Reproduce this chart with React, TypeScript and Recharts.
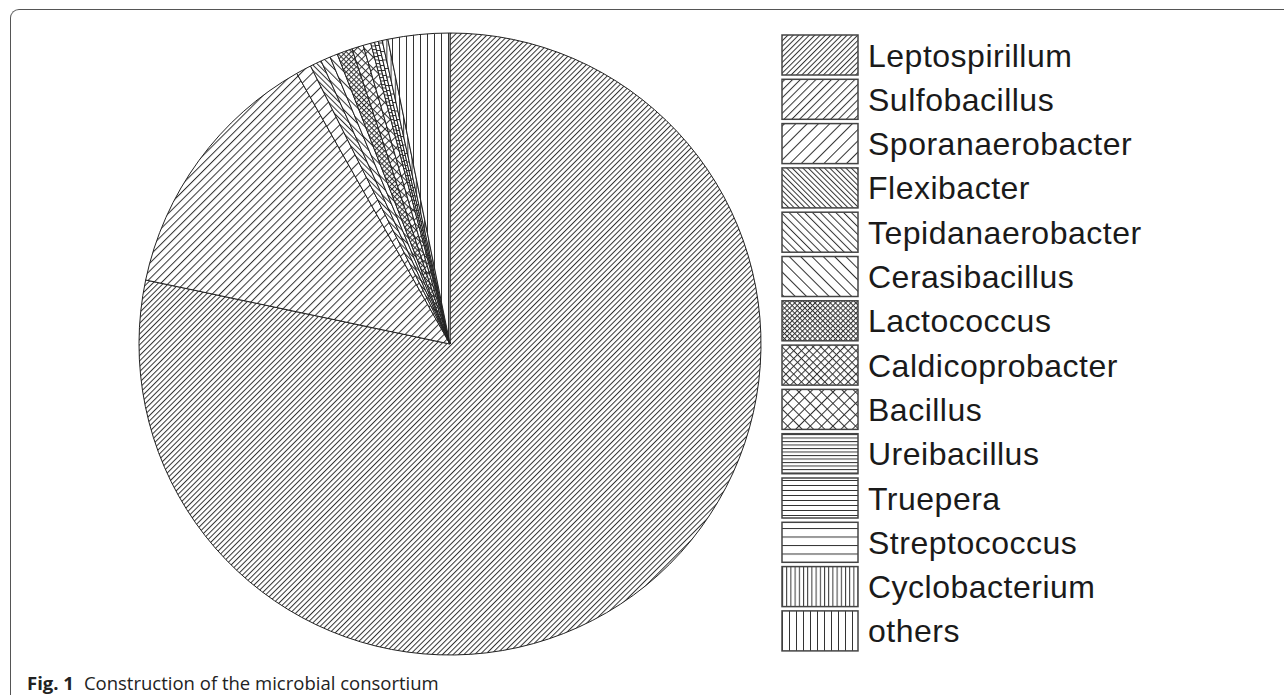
import { Cell, Legend, Pie, PieChart } from 'recharts';

// genus shares (%), clockwise from 12 o'clock
const genera = [
  'Leptospirillum',
  'Sulfobacillus',
  'Sporanaerobacter',
  'Flexibacter',
  'Tepidanaerobacter',
  'Cerasibacillus',
  'Lactococcus',
  'Caldicoprobacter',
  'Bacillus',
  'Ureibacillus',
  'Truepera',
  'Streptococcus',
  'Cyclobacterium',
  'others',
];
const shares = [78.3, 13.5, 0.8, 0.6, 0.5, 0.4, 0.8, 0.6, 0.4, 0.2, 0.2, 0.2, 0.3, 3.2];

const data = genera.map((name, i) => ({ name, value: shares[i] }));

type Hatch = { kind: 'fwd' | 'back' | 'cross' | 'horiz' | 'vert'; gap: number };

const hatches: Hatch[] = [
  { kind: 'fwd', gap: 3.8 },
  { kind: 'fwd', gap: 5.5 },
  { kind: 'fwd', gap: 8 },
  { kind: 'back', gap: 3.8 },
  { kind: 'back', gap: 5.5 },
  { kind: 'back', gap: 8 },
  { kind: 'cross', gap: 3.6 },
  { kind: 'cross', gap: 5.5 },
  { kind: 'cross', gap: 8 },
  { kind: 'horiz', gap: 3.5 },
  { kind: 'horiz', gap: 5 },
  { kind: 'horiz', gap: 8.5 },
  { kind: 'vert', gap: 4.2 },
  { kind: 'vert', gap: 7 },
];

const INK = '#333';

function HatchDefs() {
  return (
    <defs>
      {hatches.map((h, i) => {
        const g = h.gap;
        const rot =
          h.kind === 'fwd' || h.kind === 'cross' ? 'rotate(45)' : h.kind === 'back' ? 'rotate(-45)' : undefined;
        const vertical = h.kind !== 'horiz';
        const horizontal = h.kind === 'horiz' || h.kind === 'cross';
        return (
          <pattern
            key={i}
            id={`hatch${i}`}
            patternUnits="userSpaceOnUse"
            width={g}
            height={g}
            patternTransform={rot}
          >
            <rect width={g} height={g} fill="#fff" />
            {vertical && <line x1={0.5} y1={0} x2={0.5} y2={g} stroke={INK} strokeWidth={1} />}
            {horizontal && <line x1={0} y1={0.5} x2={g} y2={0.5} stroke={INK} strokeWidth={1} />}
          </pattern>
        );
      })}
    </defs>
  );
}

const ROW = 44.3;

function HatchLegend() {
  return (
    <svg width={420} height={640} style={{ overflow: 'visible' }}>
      {genera.map((name, i) => {
        const top = i * ROW;
        return (
          <g key={name}>
            <rect
              x={0}
              y={top}
              width={76}
              height={40}
              fill={`url(#hatch${i})`}
              stroke="#444"
              strokeWidth={1.5}
            />
            <text
              x={86}
              y={top + 31.5}
              fontFamily="'Liberation Sans', Arial, sans-serif"
              fontSize={32}
              letterSpacing={0.5}
              fill="#1a1a1a"
            >
              {name}
            </text>
          </g>
        );
      })}
    </svg>
  );
}

export default function App() {
  return (
    <div
      style={{
        position: 'absolute',
        left: 0,
        top: 0,
        width: 1284,
        height: 695,
        background: '#fff',
        overflow: 'hidden',
      }}
    >
      <div
        style={{
          position: 'absolute',
          left: 10,
          top: 9,
          width: 1300,
          height: 720,
          borderTop: '1.5px solid #555',
          borderLeft: '1.5px solid #555',
          borderTopLeftRadius: 9,
        }}
      />
      <div style={{ position: 'absolute', left: 0, top: 0 }}>
        <PieChart width={1284} height={695}>
          <HatchDefs />
          <Pie
            data={data}
            dataKey="value"
            nameKey="name"
            cx={445}
            cy={339}
            outerRadius={311}
            startAngle={90}
            endAngle={-270}
            stroke="#222"
            strokeWidth={1}
            isAnimationActive={false}
          >
            {data.map((d, i) => (
              <Cell key={d.name} fill={`url(#hatch${i})`} />
            ))}
          </Pie>
          <Legend
            content={() => <HatchLegend />}
            wrapperStyle={{ position: 'absolute', left: 782, top: 35, width: 420, height: 640 }}
          />
        </PieChart>
      </div>
      <div
        style={{
          position: 'absolute',
          left: 27,
          top: 670,
          fontFamily: "'Open Sans', sans-serif",
          fontSize: 18.5,
          color: '#222',
          whiteSpace: 'nowrap',
        }}
      >
        <b>Fig. 1</b>
        <span style={{ marginLeft: 10 }}>Construction of the microbial consortium</span>
      </div>
    </div>
  );
}
